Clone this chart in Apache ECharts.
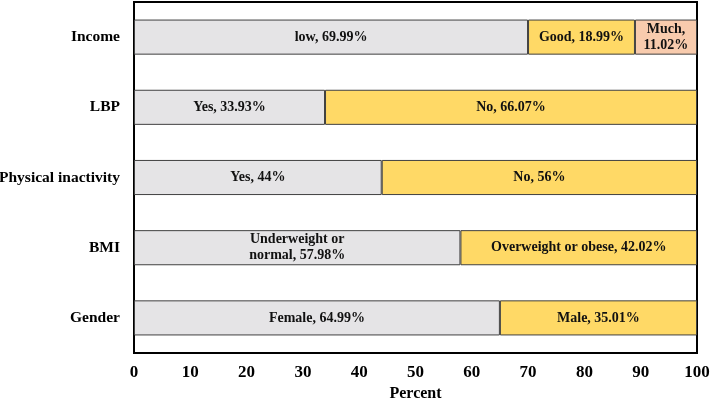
<!DOCTYPE html>
<html>
<head>
<meta charset="utf-8">
<script src="https://cdn.jsdelivr.net/npm/echarts@6/dist/echarts.min.js"></script>
<style>
  html, body { margin: 0; padding: 0; background: #fff; }
  #chart { width: 710px; height: 400px; }
</style>
</head>
<body>
<div id="chart"></div>
<script>
// categories bottom -> top
const categories = ["Gender", "BMI", "Physical inactivity", "LBP", "Income"];

const firstValues = [64.99, 57.98, 44, 33.93, 69.99];
const firstNames = ["Female", "Underweight or\nnormal", "Yes", "Yes", "low"];

const secondValues = [35.01, 42.02, 56, 66.07, 18.99];
const secondNames = ["Male", "Overweight or obese", "No", "No", "Good"];

const thirdValues = [null, null, null, null, 11.02];
const thirdNames = ["", "", "", "", "Much,\n"];

const xTicks = [0, 10, 20, 30, 40, 50, 60, 70, 80, 90, 100];

const font = "'Liberation Serif', 'Times New Roman', serif";

function makeSeries(values, names, color, sep) {
  return {
    type: "bar",
    stack: "total",
    barWidth: "50%",
    data: values,
    itemStyle: { color: color, borderColor: "#404040", borderWidth: 1 },
    label: {
      show: true,
      position: "inside",
      color: "#111",
      fontFamily: font,
      fontWeight: "bold",
      fontSize: 14,
      lineHeight: 16,
      formatter: function (p) {
        return names[p.dataIndex] + sep + p.value + "%";
      }
    }
  };
}

const chart = echarts.init(document.getElementById("chart"));
chart.setOption({
  animation: false,
  grid: {
    left: 134, right: 13, top: 2, bottom: 47,
    outerBoundsMode: "none",
    containLabel: false,
    show: true, borderColor: "#000", borderWidth: 2
  },
  xAxis: {
    type: "value",
    min: 0, max: 100, interval: 10,
    name: "Percent",
    nameLocation: "middle",
    nameGap: 33,
    nameTextStyle: { color: "#000", fontFamily: font, fontWeight: "bold", fontSize: 16 },
    axisLine: { show: false },
    axisTick: { show: false },
    splitLine: { show: false },
    axisLabel: {
      color: "#000", fontFamily: font, fontWeight: "bold", fontSize: 17, margin: 11,
      formatter: function (v) { return xTicks.indexOf(v) >= 0 ? String(v) : ""; }
    }
  },
  yAxis: {
    type: "category",
    data: categories,
    axisLine: { show: false },
    axisTick: { show: false },
    axisLabel: { color: "#000", fontFamily: font, fontWeight: "bold", fontSize: 15.5, margin: 14 }
  },
  series: [
    makeSeries(firstValues, firstNames, "#E5E4E6", ", "),
    makeSeries(secondValues, secondNames, "#FFD966", ", "),
    makeSeries(thirdValues, thirdNames, "#F8CBAD", "")
  ]
});
</script>
</body>
</html>
